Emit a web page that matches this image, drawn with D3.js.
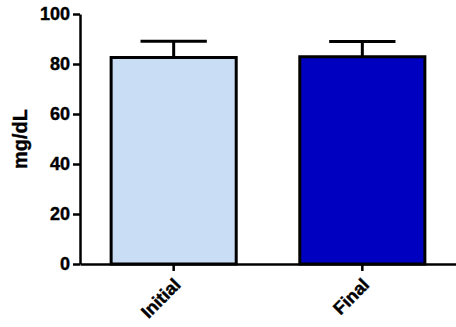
<!DOCTYPE html>
<html><head><meta charset="utf-8">
<script src="https://cdn.jsdelivr.net/npm/d3@7"></script>
<style>body{margin:0;background:#fff}svg{display:block}text{font-family:"Liberation Sans",Arial,sans-serif;font-weight:bold;fill:#000;stroke:#000;stroke-width:0.4px}</style>
</head><body><svg id="c" width="456" height="327"></svg>
<script>
const categories = ["Initial", "Final"];
const means = [82.6, 82.9];
const sds = [6.5, 6.1];
const colors = ["#c9ddf5", "#0000c0"];
const yTicks = [0, 20, 40, 60, 80, 100];
const yLabel = "mg/dL";

const svg = d3.select("#c");
const y = d3.scaleLinear().domain([0, 100]).range([264, 14]);
const x = d3.scaleBand().domain(categories).range([80, 456]).paddingInner(0.337).paddingOuter(0.165);

// bars
svg.selectAll("rect.bar").data(categories).join("rect")
  .attr("x", d => x(d)).attr("width", x.bandwidth())
  .attr("y", (d, i) => y(means[i])).attr("height", (d, i) => y(0) - y(means[i]))
  .attr("fill", (d, i) => colors[i]).attr("stroke", "#000").attr("stroke-width", 3);

// error bars
const capW = x.bandwidth() * 0.53;
categories.forEach((c, i) => {
  const cx = x(c) + x.bandwidth() / 2;
  svg.append("line").attr("x1", cx).attr("x2", cx).attr("y1", y(means[i])).attr("y2", y(means[i] + sds[i]))
    .attr("stroke", "#000").attr("stroke-width", 3);
  svg.append("line").attr("x1", cx - capW / 2).attr("x2", cx + capW / 2).attr("y1", y(means[i] + sds[i])).attr("y2", y(means[i] + sds[i]))
    .attr("stroke", "#000").attr("stroke-width", 3);
});

// y axis
const ya = svg.append("g").attr("transform", "translate(80,0)")
  .call(d3.axisLeft(y).tickValues(yTicks).tickSize(7).tickPadding(3).tickSizeOuter(0));
ya.attr("font-size", null).attr("font-family", null);
ya.select(".domain").attr("stroke-width", 2.5);
ya.selectAll(".tick line").attr("stroke-width", 2.5);
ya.selectAll(".tick text").attr("font-size", 18);

// x axis
const xa = svg.append("g").attr("transform", "translate(0,264)")
  .call(d3.axisBottom(x).tickSize(7).tickSizeOuter(0));
xa.attr("font-size", null).attr("font-family", null);
xa.select(".domain").attr("stroke-width", 2.5);
xa.selectAll(".tick line").attr("stroke-width", 2.5);
xa.selectAll(".tick text").attr("font-size", 18)
  .attr("text-anchor", "end").attr("dy", null).attr("y", 0)
  .attr("transform", "translate(8,22) rotate(-45)");

// y label
svg.append("text").attr("transform", "translate(27,139) rotate(-90)")
  .attr("text-anchor", "middle").attr("font-size", 20).text(yLabel);
</script></body></html>
